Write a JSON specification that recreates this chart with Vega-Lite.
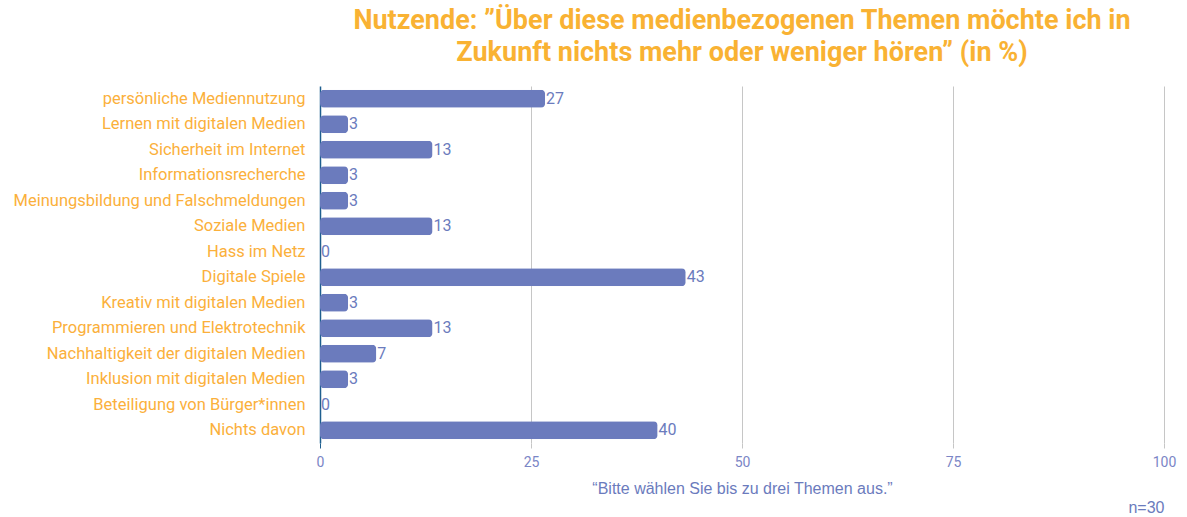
{
  "$schema": "https://vega.github.io/schema/vega-lite/v6.json",
  "width": 844,
  "height": 357,
  "autosize": {"type": "none"},
  "padding": {"left": 320, "top": 86, "right": 23, "bottom": 74},
  "background": "white",
  "title": {
    "text": ["Nutzende: ”Über diese medienbezogenen Themen möchte ich in", "Zukunft nichts mehr oder weniger hören” (in %)"],
    "font": "Roboto",
    "fontSize": 27,
    "fontWeight": "bold",
    "color": "#f9b233",
    "anchor": "middle",
    "lineHeight": 32,
    "offset": 19
  },
  "config": {
    "view": {"stroke": null},
    "font": "Roboto"
  },
  "data": {
    "values": [
      {"thema": "persönliche Mediennutzung", "wert": 26.67},
      {"thema": "Lernen mit digitalen Medien", "wert": 3.33},
      {"thema": "Sicherheit im Internet", "wert": 13.33},
      {"thema": "Informationsrecherche", "wert": 3.33},
      {"thema": "Meinungsbildung und Falschmeldungen", "wert": 3.33},
      {"thema": "Soziale Medien", "wert": 13.33},
      {"thema": "Hass im Netz", "wert": 0},
      {"thema": "Digitale Spiele", "wert": 43.33},
      {"thema": "Kreativ mit digitalen Medien", "wert": 3.33},
      {"thema": "Programmieren und Elektrotechnik", "wert": 13.33},
      {"thema": "Nachhaltigkeit der digitalen Medien", "wert": 6.67},
      {"thema": "Inklusion mit digitalen Medien", "wert": 3.33},
      {"thema": "Beteiligung von Bürger*innen", "wert": 0},
      {"thema": "Nichts davon", "wert": 40}
    ]
  },
  "encoding": {
    "y": {
      "field": "thema",
      "type": "nominal",
      "sort": null,
      "scale": {"paddingInner": 0.3, "paddingOuter": 0.15},
      "axis": {
        "title": null,
        "ticks": false,
        "domain": false,
        "labelFont": "Roboto",
        "labelFontSize": 16.5,
        "labelColor": "#fbb03b",
        "labelPadding": 15,
        "labelLimit": 400
      }
    }
  },
  "layer": [
    {
      "mark": {"type": "bar", "color": "#6b7bbd", "cornerRadius": 4},
      "encoding": {
        "x": {
          "field": "wert",
          "type": "quantitative",
          "scale": {"domain": [0, 100]},
          "axis": {
            "values": [0, 25, 50, 75, 100],
            "title": "“Bitte wählen Sie bis zu drei Themen aus.”",
            "titleFont": "Liberation Sans",
            "titleFontSize": 16,
            "titleFontWeight": "normal",
            "titleColor": "#6b7bbd",
            "titlePadding": 11,
            "domain": false,
            "grid": true,
            "gridColor": {"condition": {"test": "datum.value === 0", "value": "#1f5f8f"}, "value": "#c6c6c6"},
            "gridWidth": {"condition": {"test": "datum.value === 0", "value": 1.5}, "value": 1},
            "ticks": true,
            "tickSize": 5,
            "tickColor": {"condition": {"test": "datum.value === 0", "value": "#1f5f8f"}, "value": "#c6c6c6"},
            "labelFont": "Roboto",
            "labelFontSize": 14,
            "labelColor": "#7b86c6",
            "labelPadding": 7,
            "labelFlush": false
          }
        }
      }
    },
    {
      "mark": {"type": "text", "align": "left", "baseline": "middle", "dx": 1, "font": "Roboto", "fontSize": 16, "color": "#6b7bbd"},
      "encoding": {
        "x": {"field": "wert", "type": "quantitative", "scale": {"domain": [0, 100]}, "axis": null},
        "text": {"field": "wert", "type": "quantitative", "format": ".0f"}
      }
    },
    {
      "mark": {"type": "text", "opacity": 0},
      "encoding": {
        "x": {
          "field": "wert",
          "type": "quantitative",
          "scale": {"domain": [0, 100]},
          "axis": {
            "orient": "bottom",
            "title": "n=30",
            "titleAnchor": "end",
            "titleFont": "Liberation Sans",
            "titleFontSize": 16,
            "titleFontWeight": "normal",
            "titleColor": "#6b7bbd",
            "titlePadding": 56,
            "labels": false,
            "ticks": false,
            "domain": false,
            "grid": false
          }
        },
        "text": {"field": "wert", "type": "quantitative"}
      }
    }
  ],
  "resolve": {"scale": {"x": "independent"}}
}
